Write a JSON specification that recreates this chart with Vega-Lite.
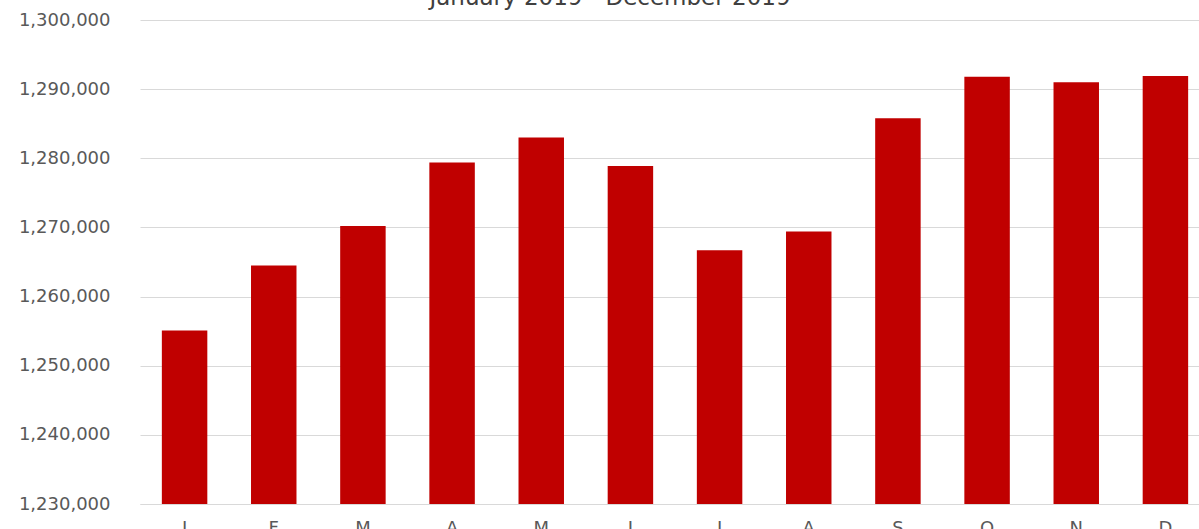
{
  "$schema": "https://vega.github.io/schema/vega-lite/v6.json",
  "autosize": {"type": "none"},
  "width": 1070,
  "height": 484,
  "padding": {"left": 140, "top": 20, "right": 0, "bottom": 25},
  "background": "white",
  "title": {
    "text": "January 2019 - December 2019",
    "fontSize": 23,
    "font": "DejaVu Sans",
    "fontWeight": "normal",
    "color": "#404040",
    "anchor": "middle",
    "baseline": "alphabetic",
    "offset": -17,
    "dx": -65
  },
  "data": {
    "values": [
      {"month": "Jan", "value": 1255100},
      {"month": "Feb", "value": 1264500},
      {"month": "Mar", "value": 1270200},
      {"month": "Apr", "value": 1279400},
      {"month": "May", "value": 1283000},
      {"month": "Jun", "value": 1278900},
      {"month": "Jul", "value": 1266700},
      {"month": "Aug", "value": 1269400},
      {"month": "Sep", "value": 1285800},
      {"month": "Oct", "value": 1291800},
      {"month": "Nov", "value": 1291000},
      {"month": "Dec", "value": 1291900}
    ]
  },
  "mark": {"type": "bar", "color": "#c00000", "clip": true},
  "encoding": {
    "x": {
      "field": "month",
      "type": "ordinal",
      "sort": null,
      "scale": {"paddingInner": 0.49, "paddingOuter": 0.245},
      "axis": {
        "title": null,
        "labelExpr": "substring(datum.label, 0, 1)",
        "labelAngle": 0,
        "ticks": false,
        "domainColor": "#d9d9d9",
        "domainWidth": 1,
        "labelPadding": 15,
        "labelFont": "DejaVu Sans",
        "labelFontSize": 18,
        "labelColor": "#595959"
      }
    },
    "y": {
      "field": "value",
      "type": "quantitative",
      "scale": {"domain": [1230000, 1300000], "nice": false, "zero": false},
      "axis": {
        "title": null,
        "values": [1230000, 1240000, 1250000, 1260000, 1270000, 1280000, 1290000, 1300000],
        "format": ",d",
        "ticks": false,
        "domain": false,
        "gridColor": "#d9d9d9",
        "gridWidth": 1,
        "labelPadding": 30,
        "labelFont": "DejaVu Sans",
        "labelFontSize": 18,
        "labelColor": "#595959"
      }
    }
  },
  "config": {"view": {"stroke": null}}
}
